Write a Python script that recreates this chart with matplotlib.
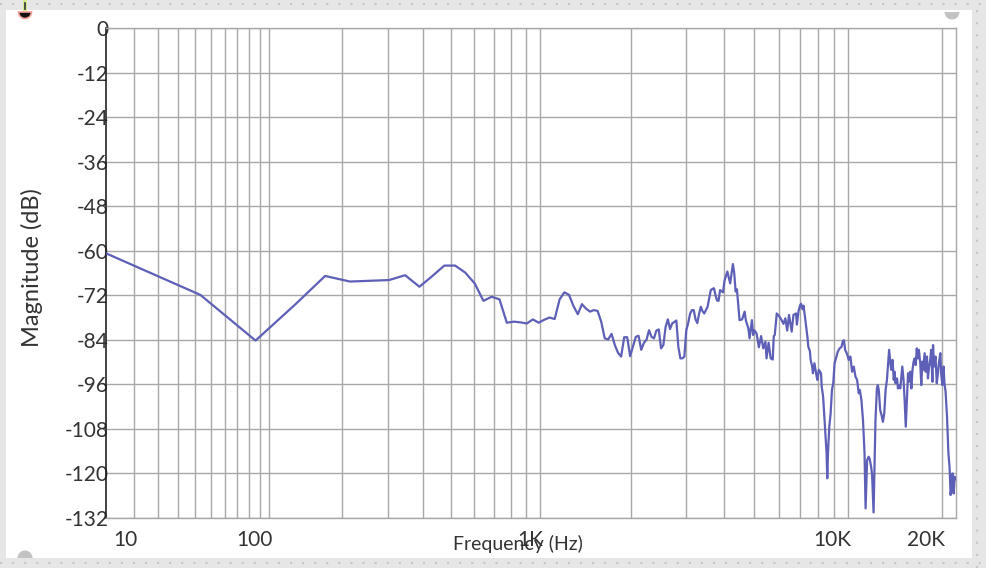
import numpy as np
import matplotlib.pyplot as plt
import matplotlib.transforms as mtransforms
from matplotlib.patches import Rectangle, Wedge
from matplotlib.lines import Line2D

# FFT set-up: 1024-point FFT at 44.1 kHz, bin 0 (DC) sits on the left edge
SAMPLE_RATE = 44100
FFT_SIZE = 1024
BIN_HZ = SAMPLE_RATE / FFT_SIZE

fft_bins = [
    0, 1, 2, 3, 4, 5, 6, 7, 8, 9,
    10, 11, 12, 13, 14, 15, 16, 17, 18, 19,
    20, 21, 22, 23, 24, 25, 26, 27, 28, 29,
    30, 31, 32, 33, 34, 35, 36, 37, 38, 39,
    40, 41, 42, 43, 44, 45, 46, 47, 48, 49,
    50, 51, 52, 53, 54, 55, 56, 57, 58, 59,
    60, 61, 62, 63, 64, 65, 66, 67, 68, 69,
    70, 71, 72, 73, 74, 75, 76, 77, 78, 79,
    80, 81, 82, 83, 84, 85, 86, 87, 88, 89,
    90, 92, 93, 95, 97, 99, 100, 101, 102, 104,
    106, 108, 109, 111, 112, 114, 115, 116, 118, 120,
    122, 124, 126, 127, 129, 131, 133, 134, 135, 137,
    140, 142, 144, 146, 148, 150, 153, 155, 158, 159,
    161, 163, 164, 166, 167, 169, 172, 173, 175, 176,
    178, 179, 181, 184, 185, 187, 190, 191, 193, 195,
    198, 199, 200, 202, 204, 206, 208, 210, 213, 215,
    218, 221, 223, 225, 227, 231, 233, 236, 239, 242,
    245, 248, 251, 253, 256, 259, 262, 264, 267, 270,
    272, 274, 275, 277, 280, 282, 284, 287, 289, 291,
    294, 297, 300, 303, 306, 309, 311, 314, 317, 319,
    322, 325, 327, 329, 333, 335, 338, 341, 344, 346,
    349, 352, 355, 358, 361, 363, 367, 370, 373, 376,
    379, 382, 385, 388, 391, 395, 398, 401, 403, 408,
    411, 415, 418, 421, 425, 428, 432, 434, 437, 442,
    446, 450, 453, 458, 461, 465, 469, 472, 476, 481,
    486, 490, 494, 497, 501, 505, 509, 512,
]
magnitude_db = [
    -60.7, -71.9, -84.2, -74.6, -66.8, -68.3, -68.1, -67.9, -66.6, -69.7,
    -66.8, -64.0, -64.0, -65.9, -68.8, -73.5, -72.4, -73.1, -79.4, -79.1,
    -79.3, -79.6, -78.5, -79.4, -78.6, -78.0, -78.4, -73.1, -71.2, -71.9,
    -74.9, -77.1, -74.4, -75.6, -76.4, -76.0, -76.2, -79.1, -83.6, -83.9,
    -82.4, -85.4, -87.5, -88.5, -83.3, -83.3, -88.4, -85.8, -83.2, -82.9,
    -86.7, -84.8, -84.0, -81.4, -83.2, -83.6, -81.5, -81.2, -86.3, -85.4,
    -80.5, -78.5, -81.1, -79.6, -79.2, -78.8, -86.0, -89.0, -89.0, -88.5,
    -81.4, -79.5, -77.0, -76.0, -76.0, -78.5, -79.5, -77.0, -75.1, -76.3,
    -76.9, -76.0, -75.1, -72.8, -70.6, -70.3, -70.1, -72.0, -73.4, -73.5,
    -70.6, -71.2, -68.1, -65.6, -68.8, -63.6, -66.1, -71.0, -70.4, -78.7,
    -78.5, -76.4, -78.8, -80.9, -83.6, -78.7, -82.7, -81.4, -82.3, -86.0,
    -83.0, -86.3, -84.5, -89.0, -84.8, -89.0, -89.3, -83.0, -82.7, -76.9,
    -77.8, -78.7, -79.7, -78.2, -81.5, -77.3, -81.8, -77.3, -76.9, -79.9,
    -76.2, -74.6, -74.3, -75.8, -74.8, -78.2, -83.5, -85.9, -87.0, -89.4,
    -91.2, -93.0, -90.3, -93.9, -94.8, -92.1, -93.0, -96.6, -99.3, -105.6,
    -114.6, -121.3, -114.6, -107.4, -103.8, -97.5, -95.7, -90.3, -88.5, -87.2,
    -86.3, -85.9, -84.5, -84.1, -86.7, -88.1, -89.4, -88.5, -92.6, -91.2,
    -93.9, -94.8, -98.4, -97.5, -100.2, -105.6, -114.6, -129.4, -116.4, -115.5,
    -116.0, -117.5, -118.2, -120.4, -130.5, -117.3, -105.6, -97.1, -96.2, -97.5,
    -102.9, -104.3, -106.1, -103.8, -97.5, -94.8, -91.7, -86.7, -90.3, -92.1,
    -89.4, -94.8, -92.6, -95.7, -94.4, -97.1, -96.2, -97.1, -93.5, -91.2,
    -94.4, -100.2, -107.4, -100.2, -93.0, -95.3, -92.6, -97.1, -92.1, -89.9,
    -89.0, -90.8, -86.3, -89.0, -86.7, -90.3, -96.2, -89.9, -92.1, -87.6,
    -92.6, -88.5, -94.4, -91.7, -89.4, -86.7, -95.3, -85.4, -91.2, -88.5,
    -95.7, -93.0, -90.3, -87.6, -93.5, -96.2, -91.2, -95.7, -98.0, -104.7,
    -114.6, -118.2, -125.8, -123.6, -120.0, -125.4, -120.9, -121.5,
]

y_ticks = [0, -12, -24, -36, -48, -60, -72, -84, -96, -108, -120, -132]
x_grid_hz = [10, 20, 30, 40, 50, 60, 70, 80, 90,
             100, 200, 300, 400, 500, 600, 700, 800, 900,
             1000, 2000, 3000, 4000, 5000, 6000, 7000, 8000, 9000,
             10000, 20000]
x_label_hz = [10, 100, 1000, 10000, 20000]
x_label_text = ['10', '100', '1K', '10K', '20K']

plt.rcParams['font.family'] = ['Lato', 'DejaVu Sans']

LINE_COLOR = '#5d60b6'
GRID_COLOR = '#a8a8a8'
TEXT_COLOR = '#333333'


def to_axis(f):
    # log axis shifted by one bin so DC (0 Hz) can be drawn
    with np.errstate(divide='ignore', invalid='ignore'):
        return np.log10(np.asarray(f, dtype=float) + BIN_HZ)


def from_axis(u):
    return 10 ** np.asarray(u, dtype=float) - BIN_HZ


W, H = 986, 568
fig = plt.figure(figsize=(W / 100, H / 100), dpi=100)
fig.patch.set_facecolor('#e6e6e6')

# white card + dotted page margin
fig.add_artist(Rectangle((6 / W, 10 / H), 966 / W, 548 / H, transform=fig.transFigure,
                         facecolor='white', edgecolor='none', zorder=-5))
dot_style = dict(color='#c6c6c6', lw=1.5, linestyle=(0, (1, 4.8)), transform=fig.transFigure)
fig.add_artist(Line2D([0, 1], [1 - 3.5 / H, 1 - 3.5 / H], **dot_style))
fig.add_artist(Line2D([0, 1], [1 - 563 / H, 1 - 563 / H], **dot_style))
fig.add_artist(Line2D([977 / W, 977 / W], [0, 1], **dot_style))

# little UI handles on the card corners
px = fig.dpi_scale_trans
fig.add_artist(Wedge((952 / 100, (H - 12) / 100), 0.075, 180, 360, transform=px,
                     facecolor='#c2c2c2', edgecolor='none'))
fig.add_artist(Wedge((25 / 100, (H - 558) / 100), 0.075, 0, 180, transform=px,
                     facecolor='#c2c2c2', edgecolor='none'))
fig.add_artist(Wedge((25 / 100, (H - 12) / 100), 0.065, 180, 360, transform=px,
                     facecolor='#111111', edgecolor='#f2a09a', lw=1.2))
fig.add_artist(Rectangle((23 / 100, (H - 11) / 100), 0.04, 0.11, transform=px,
                         facecolor='#d6ee8a', edgecolor='none'))
fig.add_artist(Line2D([0.25, 0.25], [(H - 9) / 100, (H - 3) / 100], transform=px,
                      color='#333333', lw=1.2))

ax = fig.add_axes([106 / W, 1 - 518 / H, (955.5 - 106) / W, 490 / H])
ax.set_xscale('function', functions=(to_axis, from_axis))

freq_hz = np.array(fft_bins) * BIN_HZ
ax.plot(freq_hz, magnitude_db, color=LINE_COLOR, lw=1.6, solid_joinstyle='round', zorder=3)

ax.set_xlim(0, SAMPLE_RATE / 2)
ax.set_ylim(-132, 0)

ax.set_xticks(x_grid_hz)
ax.set_xticklabels([''] * len(x_grid_hz))
ax.set_yticks(y_ticks)
ax.set_yticklabels([str(v) for v in y_ticks])
ax.minorticks_off()
ax.tick_params(axis='both', length=0)
ax.tick_params(axis='y', pad=-2, labelsize=15, labelcolor=TEXT_COLOR)
ax.grid(True, color=GRID_COLOR, lw=1.0)
ax.set_axisbelow(True)

for side in ['top', 'right', 'bottom']:
    ax.spines[side].set_color(GRID_COLOR)
    ax.spines[side].set_linewidth(1.0)
ax.spines['left'].set_color('#222222')
ax.spines['left'].set_linewidth(1.2)

# x labels sit just left of their grid line
shift = mtransforms.ScaledTranslation(3 / 100, 0, fig.dpi_scale_trans)
label_trans = mtransforms.blended_transform_factory(ax.transData, ax.transAxes) + shift
for f, txt in zip(x_label_hz, x_label_text):
    ax.text(f, -0.045, txt, transform=label_trans, ha='right', va='center',
            fontsize=15, color=TEXT_COLOR)

fig.text(518 / W, 1 - 544 / H, 'Frequency (Hz)', ha='center', va='center',
         fontsize=14, color=TEXT_COLOR)
fig.text(32 / W, 1 - 268 / H, 'Magnitude (dB)', ha='center', va='center',
         rotation=90, fontsize=17, color=TEXT_COLOR)

fig.savefig('out.png', dpi=100)
